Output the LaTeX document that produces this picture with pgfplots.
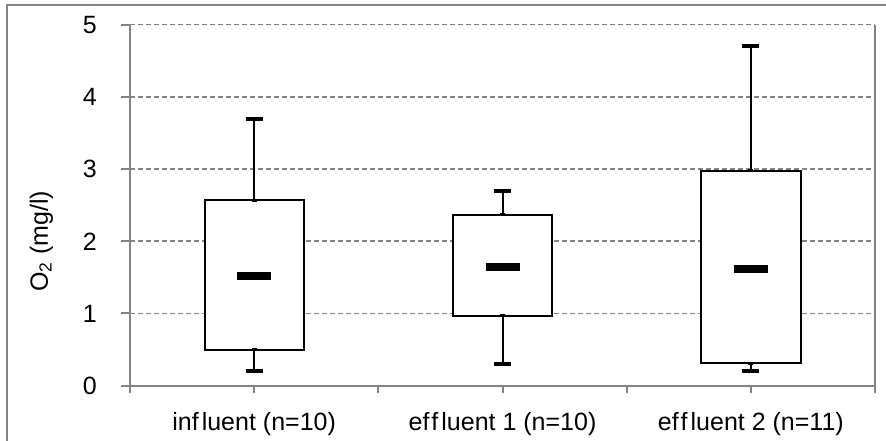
\documentclass[border=0pt]{standalone}
\usepackage{pgfplots}
\pgfplotsset{compat=1.18}
\usepackage{pgfplotstable}
\usepgfplotslibrary{statistics}
\usepackage{fontspec}
\setmainfont{Liberation Sans}
\definecolor{axisgray}{HTML}{848484}
\newcommand{\chartfont}{\fontsize{25bp}{29bp}\selectfont}

% Dissolved oxygen summary per sampling point:
% lower whisker, lower quartile, median, upper quartile, upper whisker
\pgfplotstableread{
pos lw   q1   med  q3   uw
1   0.21 0.50 1.52 2.57 3.70
2   0.30 0.97 1.65 2.37 2.70
3   0.21 0.31 1.62 2.98 4.70
}\oxygen

\begin{document}
\begin{tikzpicture}[x=1bp,y=1bp]
\useasboundingbox (0,0) rectangle (886,441);
% chart frame
\draw[axisgray, line width=2bp] (7,-20) -- (7,436) -- (920,436);
\begin{axis}[
  at={(130bp,55.3bp)}, anchor=south west,
  scale only axis, width=745bp, height=361bp,
  xmin=0.5, xmax=3.5, ymin=0, ymax=5,
  axis x line*=bottom, axis y line*=left,
  axis line style={draw=axisgray, line width=2bp, -},
  tick align=outside,
  tick style={draw=axisgray, line width=2bp},
  major tick length=9bp,
  ytick={0,1,2,3,4,5},
  ymajorgrids,
  grid style={draw=axisgray, line width=1.6bp, dash pattern=on 5bp off 3bp},
  xtick={0.5,1.5,2.5,3.5},
  xticklabels={},
  xtick style={/pgfplots/major tick length=7.5bp},
  extra x ticks={1,2,3},
  extra x tick labels={inf\kern3bp luent (n=10), ef\kern2bp f\kern3bp luent 1 (n=10), ef\kern2bp f\kern3bp luent 2 (n=11)},
  extra x tick style={major tick length=0pt, grid=none,
    xticklabel style={anchor=base, inner sep=0pt, yshift=-45bp}},
  /pgf/number format/assume math mode=true,
  tick label style={font=\chartfont},
  yticklabel style={anchor=east, inner sep=0pt, xshift=-24bp},
  ylabel={O\textsubscript{2} (mg/l)},
  ylabel style={font=\chartfont, at={(axis description cs:-0.119,0.40)}, anchor=center},
  boxplot/draw direction=y,
  clip=false,
]
% boxes and whiskers
\pgfplotsset{boxplot/draw/median/.code={}}
\addplot[draw=black, fill=white, line width=2bp,
  boxplot prepared={lower whisker=0.21, lower quartile=0.50, median=1.52,
    upper quartile=2.57, upper whisker=3.70, draw position=1,
    box extend=0.4, whisker extend=0}] coordinates {};
\addplot[draw=black, fill=white, line width=2bp,
  boxplot prepared={lower whisker=0.30, lower quartile=0.97, median=1.65,
    upper quartile=2.37, upper whisker=2.70, draw position=2,
    box extend=0.4, whisker extend=0}] coordinates {};
\addplot[draw=black, fill=white, line width=2bp,
  boxplot prepared={lower whisker=0.21, lower quartile=0.31, median=1.62,
    upper quartile=2.98, upper whisker=4.70, draw position=3,
    box extend=0.4, whisker extend=0}] coordinates {};
% whisker caps
\addplot[only marks, mark=-, mark size=8.5bp, mark options={draw=black, line width=4bp}] table[x=pos, y=lw] {\oxygen};
\addplot[only marks, mark=-, mark size=8.5bp, mark options={draw=black, line width=4bp}] table[x=pos, y=uw] {\oxygen};
% small joints where whiskers meet the boxes
\addplot[only marks, mark=-, mark size=2.5bp, mark options={draw=black, line width=3bp}] table[x=pos, y=q1] {\oxygen};
\addplot[only marks, mark=-, mark size=2.5bp, mark options={draw=black, line width=3bp}] table[x=pos, y=q3] {\oxygen};
% medians
\addplot[only marks, mark=-, mark size=17bp, mark options={draw=black, line width=8bp}] table[x=pos, y=med] {\oxygen};
% right edge of the plot area
\draw[axisgray, line width=2bp] (axis cs:3.5,0) -- (axis cs:3.5,5);
\end{axis}
\end{tikzpicture}
\end{document}
